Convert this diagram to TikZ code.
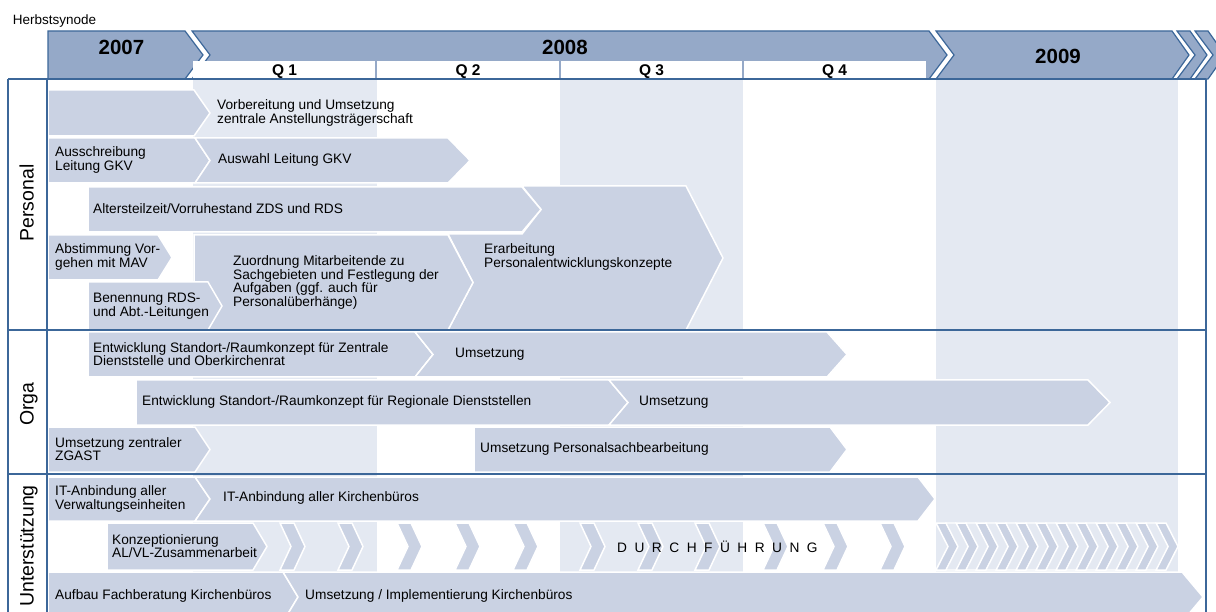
\documentclass[tikz,border=0pt]{standalone}
\usepackage{fontspec}
\setmainfont{Liberation Sans}
\usepackage{xcolor}
\usepackage{tikz}
\definecolor{frameblue}{HTML}{3C6799}
\definecolor{headblue}{HTML}{95A9C8}
\definecolor{barblue}{HTML}{CAD2E3}
\definecolor{bandblue}{HTML}{E4E9F2}
% [style]{left x}{top-right x}{top y}{bottom y}{left notch}{tip depth}
\newcommand{\chevshape}[7][taskbar]{%
  \filldraw[#1] (#2,#4) -- (#3,#4) -- ({#3+#7},{(#4+#5)/2}) -- (#3,#5)
    -- (#2,#5) -- ({#2+#6},{(#4+#5)/2}) -- cycle;}

\begin{document}
\begin{tikzpicture}[x=1pt, y=-1pt,
    taskbar/.style={fill=barblue, draw=white, line width=1.5pt},
    taskband/.style={fill=bandblue, draw=white, line width=1.2pt},
    yearbox/.style={fill=headblue, draw=frameblue, line width=1.2pt},
    gridline/.style={draw=frameblue, line width=2pt},
    task/.style={anchor=west, align=left, inner sep=0pt,
      font=\fontsize{13.7}{12.6}\selectfont},
    yeartext/.style={anchor=base, font=\bfseries\fontsize{20.5}{22}\selectfont},
    quartertext/.style={anchor=base, font=\bfseries\fontsize{15.5}{17}\selectfont},
    sectiontext/.style={rotate=90, anchor=base, font=\fontsize{19.5}{21}\selectfont}]
    \useasboundingbox (0,0) rectangle (1216,612);
    \clip (0,0) rectangle (1216,612);

    % Shaded columns: Q1, Q3 and 2009.
    \fill[bandblue] (193,79) rectangle (377,620);
    \fill[bandblue] (560,79) rectangle (743,620);
    \fill[bandblue] (936,79) rectangle (1178,620);

    % Year bar.
    \chevshape[yearbox]{48}{185}{31}{79}{0}{18}
    \chevshape[yearbox]{192}{929}{31}{79}{18}{18}
    \chevshape[yearbox]{936}{1172}{31}{79}{18}{17}
    \chevshape[yearbox]{1177}{1190}{31}{79}{18}{17}
    \chevshape[yearbox]{1195}{1208}{31}{79}{18}{17}

    % Quarter row.
    \fill[white] (193,61) rectangle (926,78);
    \draw[headblue, line width=1.5pt] (376,61) -- (376,78);
    \draw[headblue, line width=1.5pt] (560,61) -- (560,78);
    \draw[headblue, line width=1.5pt] (743,61) -- (743,78);

    % Personal.
    \chevshape{48}{194}{90}{136}{0}{16}
    \chevshape{48}{195}{138}{183}{0}{15}
    \chevshape{195}{448}{138}{183}{15}{22}
    \filldraw[taskbar] (522,186) -- (686,186) -- (723,258) -- (686,330)
      -- (448,330) -- (473,282.5) -- (448,234) -- (522,234)
      -- (541,209.5) -- cycle;
    \chevshape{88}{522}{187}{232}{0}{19}
    \chevshape{48}{158}{235}{280}{0}{14}
    \chevshape{194}{448}{235}{330}{0}{25}
    \chevshape{88}{208}{282}{330}{0}{14}

    % Orga.
    \chevshape{88}{415}{332}{377}{0}{18}
    \chevshape{415}{827}{332}{377}{18}{20}
    \chevshape{136}{609}{380}{425}{0}{19}
    \chevshape{609}{1088}{380}{425}{19}{22}
    \chevshape{48}{195}{427}{472}{0}{15}
    \chevshape{474}{830}{427}{472}{0}{17}

    % Unterstuetzung.
    \chevshape{48}{195}{477}{521}{0}{15}
    \chevshape{195}{918}{477}{521}{15}{17}
    \chevshape{107}{253}{523}{570}{0}{14}
    \foreach \m in {280,338,397,455,513,580,638,695,763,823,880}
      {\chevshape{\m}{\m+14}{523}{570}{11}{11}}
    \foreach \i in {0,...,11}
      {\chevshape{936+20*\i}{946+20*\i}{523}{570}{12}{12}}
    \foreach \i in {0,...,10}
      {\chevshape[taskband]{946+20*\i}{956+20*\i}{523}{570}{12}{12}}
    \chevshape{48}{283}{572}{622}{0}{15}
    \chevshape{283}{1182}{572}{622}{15}{21}

    % Frame.
    \draw[gridline] (8,79) -- (1206,79);
    \draw[gridline] (8,79) -- (8,620);
    \draw[gridline] (47,79) -- (47,620);
    \draw[gridline] (1206,79) -- (1206,620);
    \draw[gridline] (8,330) -- (1206,330);
    \draw[gridline] (8,474) -- (1206,474);

    % Header texts.
    \node[anchor=base west, inner sep=0pt, font=\fontsize{13.5}{15}\selectfont]
      (synode) at (12.7,25) {Herbstsynode};
    \node[yeartext] (y2007) at (121.5,54.3) {2007};
    \node[yeartext] (y2008) at (565,54.3) {2008};
    \node[yeartext] (y2009) at (1058,63.3) {2009};
    \node[quartertext] (q1) at (284.5,76) {Q 1};
    \node[quartertext] (q2) at (468,76) {Q 2};
    \node[quartertext] (q3) at (651.5,76) {Q 3};
    \node[quartertext] (q4) at (834.5,76) {Q 4};

    % Section labels.
    \node[sectiontext] (personal) at (33.5,203) {Personal};
    \node[sectiontext] (orga) at (33.5,404) {Orga};
    \node[sectiontext] (unterst) at (33.5,546) {Unterstützung};

    % Task labels.
    \node[task] (vorb) at (217,113) {Vorbereitung und Umsetzung\\zentrale Anstellungsträgerschaft};
    \node[task] (aussch) at (55,160) {Ausschreibung\\Leitung GKV};
    \node[task] (auswahl) at (218,160) {Auswahl Leitung GKV};
    \node[task] (alters) at (93,209) {Altersteilzeit/Vorruhestand ZDS und RDS};
    \node[task] (abst) at (55,257) {Abstimmung Vor-\\gehen mit MAV};
    \node[task] (zuord) at (233,282.5) {Zuordnung Mitarbeitende zu\\Sachgebieten und Festlegung der\\Aufgaben (ggf. auch für\\Personalüberhänge)};
    \node[task] (benenn) at (93,306) {Benennung RDS-\\und Abt.-Leitungen};
    \node[task] (erarb) at (484,257) {Erarbeitung\\Personalentwicklungskonzepte};
    \node[task] (zds) at (93,354) {Entwicklung Standort-/Raumkonzept für Zentrale\\Dienststelle und Oberkirchenrat};
    \node[task] (umszds) at (455,354) {Umsetzung};
    \node[task] (rds) at (142,402) {Entwicklung Standort-/Raumkonzept für Regionale Dienststellen};
    \node[task] (umsrds) at (639,402) {Umsetzung};
    \node[task] (zgast) at (55,449) {Umsetzung zentraler\\ZGAST};
    \node[task] (psach) at (480,449) {Umsetzung Personalsachbearbeitung};
    \node[task] (itverw) at (55,499) {IT-Anbindung aller\\Verwaltungseinheiten};
    \node[task] (itkb) at (223,498) {IT-Anbindung aller Kirchenbüros};
    \node[task] (konz) at (112,546) {Konzeptionierung\\AL/VL-Zusammenarbeit};
    \node[task] (durch) at (617,547) {\spaceskip=7.5pt D U R C H F Ü H R U N G};
    \node[task] (fachb) at (55,596) {Aufbau Fachberatung Kirchenbüros};
    \node[task] (implem) at (305,596) {Umsetzung / Implementierung Kirchenbüros};
\end{tikzpicture}
\end{document}
